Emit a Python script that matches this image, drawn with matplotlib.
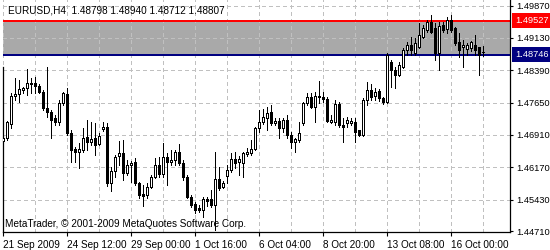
import matplotlib
matplotlib.use("Agg")
import matplotlib.pyplot as plt
from matplotlib.transforms import blended_transform_factory

symbol = "EURUSD,H4"

opens = [1.46771, 1.46840, 1.47160, 1.47802, 1.47847, 1.47939, 1.47985, 1.48076, 1.48099, 1.48031,
         1.47893, 1.47527, 1.47435, 1.47298, 1.47206, 1.47641, 1.47847, 1.46954, 1.46588, 1.46519,
         1.46565, 1.46863, 1.46748, 1.46840, 1.46702, 1.47046, 1.47092, 1.45809, 1.46084, 1.46428,
         1.46496, 1.46038, 1.46222, 1.46290, 1.45809, 1.45557, 1.45535, 1.45718, 1.45947, 1.46222,
         1.46015, 1.46405, 1.46290, 1.46336, 1.46519, 1.46267, 1.45947, 1.45489, 1.45328, 1.45237,
         1.45191, 1.45443, 1.45443, 1.45305, 1.45901, 1.45718, 1.45970, 1.46107, 1.46359, 1.46290,
         1.46267, 1.46473, 1.46496, 1.46588, 1.47069, 1.47206, 1.47298, 1.47435, 1.47183, 1.47229,
         1.47069, 1.47252, 1.46909, 1.46748, 1.46794, 1.47183, 1.47641, 1.47779, 1.47550, 1.47802,
         1.47779, 1.47733, 1.47206, 1.47206, 1.47618, 1.47138, 1.47183, 1.47183, 1.47206, 1.47023,
         1.46909, 1.47710, 1.47939, 1.47802, 1.47916, 1.47756, 1.47664, 1.48580, 1.48397, 1.48283,
         1.48466, 1.48855, 1.48970, 1.48786, 1.48924, 1.49153, 1.49313, 1.49496, 1.49359, 1.48786,
         1.49428, 1.49336, 1.49542, 1.49359, 1.49038, 1.48924, 1.48878, 1.48901, 1.48970, 1.48924,
         1.48798]

highs = [1.46931, 1.47229, 1.47870, 1.48214, 1.48168, 1.48008, 1.48420, 1.48214, 1.48237, 1.48076,
         1.47939, 1.48466, 1.47481, 1.47367, 1.47710, 1.47893, 1.47985, 1.47023, 1.46634, 1.46725,
         1.47069, 1.47252, 1.47206, 1.47183, 1.46954, 1.47206, 1.47183, 1.46176, 1.46451, 1.46771,
         1.46794, 1.46336, 1.46313, 1.46382, 1.45832, 1.45764, 1.45809, 1.45993, 1.46382, 1.46405,
         1.46725, 1.46496, 1.46565, 1.46565, 1.46702, 1.46336, 1.45993, 1.45535, 1.45374, 1.45305,
         1.45489, 1.45489, 1.45649, 1.46519, 1.46176, 1.45855, 1.46222, 1.46496, 1.46519, 1.46428,
         1.46519, 1.46611, 1.46794, 1.47092, 1.47481, 1.47504, 1.47550, 1.47596, 1.47298, 1.47298,
         1.47298, 1.47367, 1.46977, 1.46840, 1.47206, 1.47664, 1.47870, 1.47870, 1.47893, 1.48145,
         1.47893, 1.47779, 1.47367, 1.47710, 1.47664, 1.47298, 1.47321, 1.47298, 1.47298, 1.47023,
         1.47756, 1.48122, 1.48076, 1.47985, 1.47962, 1.47779, 1.48786, 1.48626, 1.48466, 1.48580,
         1.48901, 1.49038, 1.49153, 1.49130, 1.49473, 1.49428, 1.49542, 1.49657, 1.49473, 1.49496,
         1.49496, 1.49611, 1.49657, 1.49382, 1.49244, 1.49084, 1.49015, 1.49061, 1.49199, 1.48924,
         1.48940]

lows = [1.46702, 1.46794, 1.47069, 1.47710, 1.47664, 1.47870, 1.47825, 1.47870, 1.47870, 1.47870,
        1.47481, 1.47321, 1.46840, 1.47138, 1.47138, 1.47596, 1.46909, 1.46290, 1.46290, 1.46153,
        1.46519, 1.46565, 1.46680, 1.46451, 1.46680, 1.47000, 1.45741, 1.45626, 1.45947, 1.46222,
        1.45878, 1.45993, 1.45832, 1.45764, 1.45466, 1.45283, 1.45466, 1.45695, 1.45924, 1.45947,
        1.45947, 1.45764, 1.46222, 1.46222, 1.46222, 1.45878, 1.45466, 1.45260, 1.45123, 1.45145,
        1.45031, 1.45283, 1.45260, 1.44733, 1.45649, 1.45695, 1.45809, 1.46061, 1.46153, 1.45993,
        1.45947, 1.46428, 1.46451, 1.46565, 1.46977, 1.47160, 1.47023, 1.47138, 1.47138, 1.46840,
        1.46977, 1.46840, 1.46611, 1.46519, 1.46748, 1.47138, 1.47596, 1.47527, 1.47206, 1.47641,
        1.47664, 1.47206, 1.47183, 1.47138, 1.47092, 1.46748, 1.47092, 1.47138, 1.46748, 1.46886,
        1.46886, 1.47596, 1.47710, 1.47710, 1.47687, 1.47618, 1.47641, 1.48008, 1.47985, 1.48260,
        1.48443, 1.48741, 1.48741, 1.48741, 1.48901, 1.49130, 1.49267, 1.49244, 1.48626, 1.48397,
        1.49267, 1.49244, 1.49267, 1.48970, 1.48695, 1.48466, 1.48741, 1.48832, 1.48741, 1.48283,
        1.48712]

closes = [1.46840, 1.47206, 1.47802, 1.47847, 1.47962, 1.47985, 1.48099, 1.48099, 1.48031, 1.47893,
          1.47527, 1.47435, 1.47252, 1.47206, 1.47641, 1.47870, 1.46954, 1.46565, 1.46519, 1.46588,
          1.46840, 1.46748, 1.46817, 1.46680, 1.46886, 1.47092, 1.45809, 1.46084, 1.46405, 1.46496,
          1.46038, 1.46222, 1.46267, 1.45809, 1.45535, 1.45512, 1.45718, 1.45947, 1.46222, 1.46015,
          1.46405, 1.46290, 1.46336, 1.46519, 1.46267, 1.45947, 1.45489, 1.45305, 1.45191, 1.45191,
          1.45443, 1.45397, 1.45305, 1.45901, 1.45695, 1.45809, 1.46107, 1.46359, 1.46267, 1.46359,
          1.46496, 1.46519, 1.46588, 1.47069, 1.47206, 1.47321, 1.47412, 1.47183, 1.47229, 1.47069,
          1.47252, 1.46909, 1.46748, 1.46817, 1.46954, 1.47641, 1.47779, 1.47550, 1.47802, 1.47779,
          1.47733, 1.47229, 1.47252, 1.47618, 1.47138, 1.47092, 1.47252, 1.47229, 1.46977, 1.46909,
          1.47710, 1.47939, 1.47779, 1.47893, 1.47756, 1.47664, 1.48741, 1.48397, 1.48283, 1.48512,
          1.48855, 1.48970, 1.48855, 1.49015, 1.49199, 1.49359, 1.49496, 1.49267, 1.48786, 1.49405,
          1.49313, 1.49542, 1.49313, 1.49015, 1.48855, 1.48970, 1.48970, 1.49038, 1.48855, 1.48741,
          1.48807]

ytick_values = [1.49870, 1.49130, 1.48390, 1.47650, 1.46910, 1.46170, 1.45430, 1.44710]
xtick_bars = [0, 16, 32, 48, 64, 80, 96, 112]
xtick_labels = ["21 Sep 2009", "24 Sep 12:00", "29 Sep 00:00", "1 Oct 16:00",
                "6 Oct 04:00", "8 Oct 20:00", "13 Oct 08:00", "16 Oct 00:00"]
resistance = 1.49527
support = 1.48746
copyright_text = "MetaTrader, \u00a9 2001-2009 MetaQuotes Software Corp."

FONT = "Liberation Sans"
FS = 7.2      # header, footer, date labels
FS_Y = 6.7    # price scale

fig = plt.figure(figsize=(5.5, 2.5), dpi=100)
fig.patch.set_facecolor("white")
ax = fig.add_axes([2.5 / 550, 18 / 250, 507 / 550, 232 / 250])
ax.set_facecolor("white")
ax.set_xlim(-0.2, 126.55)
ax.set_ylim(1.446872, 1.5)

# highlighted zone
ax.axhspan(support, resistance, color="#a9a9a9", zorder=0, lw=0)

# grid
grid_style = dict(color="#c0c0c0", lw=0.72, ls=(0, (3, 3)), zorder=1, antialiased=False)
for yv in ytick_values[:-1]:
    ax.axhline(yv, **grid_style)
for b in range(0, len(closes), 8):
    ax.axvline(b, **grid_style)

# level lines
ax.axhline(resistance, color="#ff0000", lw=1.44, zorder=2, antialiased=False)
ax.axhline(support, color="#000080", lw=1.44, zorder=2, antialiased=False)

# candles
idx = list(range(len(closes)))
ax.vlines(idx, lows, highs, color="black", lw=0.72, zorder=3, antialiased=False)
bottoms = [min(o, c) for o, c in zip(opens, closes)]
heights = [abs(c - o) for o, c in zip(opens, closes)]
colors = ["white" if c >= o else "black" for o, c in zip(opens, closes)]
ax.bar(idx, heights, 0.5, bottom=bottoms, color=colors, edgecolor="black",
       linewidth=0.72, zorder=4, antialiased=False)

# spines
ax.spines["top"].set_visible(False)
ax.spines["left"].set_bounds(1.446872, 1.4847)
for s in ["left", "right", "bottom"]:
    ax.spines[s].set_color("black")
    ax.spines[s].set_linewidth(0.9)

# ticks
ax.yaxis.tick_right()
ax.set_yticks(ytick_values)
ax.set_yticklabels([f"{v:.5f}" for v in ytick_values])
ax.set_xticks(xtick_bars)
ax.set_xticklabels(xtick_labels)
for lbl in ax.get_xticklabels():
    lbl.set_horizontalalignment("left")
    lbl.set_fontfamily(FONT)
for lbl in ax.get_yticklabels():
    lbl.set_fontfamily(FONT)
ax.tick_params(axis="x", direction="out", length=3, width=0.8, pad=3, labelsize=FS, colors="black")
ax.tick_params(axis="y", direction="out", length=2.2, width=0.8, pad=2.5, labelsize=FS_Y, colors="black")

# price tags
tr = blended_transform_factory(ax.transAxes, ax.transData)
for price, col in [(resistance, "#ff0000"), (support, "#000080")]:
    ax.text(1.0 + 5.5 / 507, price, f"{price:.5f}", transform=tr, color="white",
            fontsize=FS_Y, family=FONT, va="center", ha="left", zorder=10, clip_on=False,
            bbox=dict(facecolor=col, edgecolor="none", boxstyle="square,pad=0.3"))

# header and footer
header = f"{symbol}  {opens[-1]:.5f} {highs[-1]:.5f} {lows[-1]:.5f} {closes[-1]:.5f}"
fig.text(7.5 / 550, 1 - 10.5 / 250, header, fontsize=FS, family=FONT, va="center", ha="left")
fig.text(5 / 550, 1 - 224 / 250, copyright_text, fontsize=FS, family=FONT, va="center", ha="left")

fig.savefig("out.png", dpi=100, facecolor="white")
